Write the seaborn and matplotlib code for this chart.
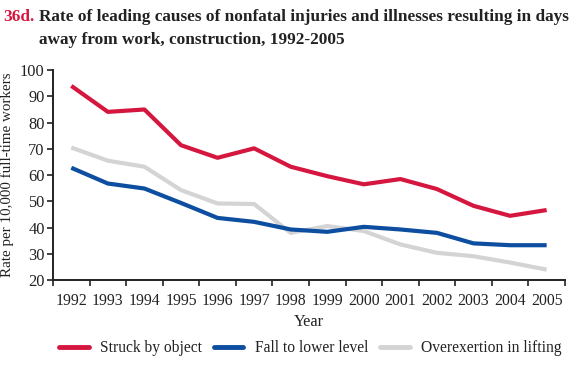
import matplotlib
matplotlib.use("Agg")
import matplotlib.pyplot as plt
import seaborn as sns
import pandas as pd
from matplotlib.ticker import FixedLocator

years = list(range(1992, 2006))
struck = [94.0, 84.1, 85.0, 71.4, 66.6, 70.2, 63.2, 59.6, 56.5, 58.5, 54.7, 48.3, 44.5, 46.7]
fall = [62.8, 56.8, 54.9, 49.4, 43.7, 42.2, 39.3, 38.4, 40.3, 39.3, 38.0, 34.0, 33.3, 33.3]
lifting = [70.5, 65.5, 63.2, 54.3, 49.2, 49.0, 38.0, 40.6, 38.7, 33.6, 30.4, 29.1, 26.7, 24.0]
series_names = ["Struck by object", "Fall to lower level", "Overexertion in lifting"]
colors = ["#D5173F", "#0D4EA0", "#D4D4D4"]

df = pd.concat([
    pd.DataFrame({"Year": years, "Rate": v, "Cause": n})
    for v, n in zip([struck, fall, lifting], series_names)
])

sns.set_theme(style="ticks")
plt.rcParams["font.family"] = ["Liberation Serif", "DejaVu Serif"]

fig = plt.figure(figsize=(5.8, 3.73), dpi=100)
ax = fig.add_axes([0.0914, 0.249, 0.974 - 0.0914, 0.812 - 0.249])

sns.lineplot(data=df, x="Year", y="Rate", hue="Cause", hue_order=series_names,
             palette=colors, linewidth=3.0, ax=ax, legend=False)
for i, ln in enumerate(ax.get_lines()):
    ln.set_zorder(5 - i)
    ln.set_solid_capstyle("butt")

ax.set_xlim(1991.5, 2005.5)
ax.set_ylim(20, 100)
ax.set_yticks(range(20, 101, 10))
ax.set_xticks(years)
ax.set_xticklabels([str(y) for y in years])
ax.xaxis.set_minor_locator(FixedLocator([y + 0.5 for y in range(1991, 2006)]))
ax.tick_params(axis="x", which="major", length=0, pad=9, labelsize=11.3, colors="#222222")
ax.tick_params(axis="x", which="minor", length=4, width=1.2, direction="out", color="#222222")
ax.tick_params(axis="y", which="major", length=4, width=1.2, direction="out", labelsize=11.8, pad=2, colors="#222222")
for s in ["top", "right"]:
    ax.spines[s].set_visible(False)
for s in ["left", "bottom"]:
    ax.spines[s].set_linewidth(1.4)
    ax.spines[s].set_color("#222222")

ax.set_xlabel("Year", fontsize=11.8, labelpad=4, color="#222222")
ax.set_ylabel("Rate per 10,000 full-time workers", fontsize=10.8, color="#222222")
ax.yaxis.set_label_coords(-(53 - 14) / (580 * (0.974 - 0.0914)), 0.5)

# title
fig.text(3 / 580, 1 - 17 / 373, "36d.", color="#D5173F", fontsize=12.4, fontweight="bold", va="center", ha="left")
fig.text(39 / 580, 1 - 17 / 373, "Rate of leading causes of nonfatal injuries and illnesses resulting in days",
         color="#222222", fontsize=12.4, fontweight="bold", va="center", ha="left")
fig.text(39 / 580, 1 - 40 / 373, "away from work, construction, 1992-2005",
         color="#222222", fontsize=12.4, fontweight="bold", va="center", ha="left")

handles = [plt.Line2D([], [], color=c, linewidth=3.5) for c in colors]
fig.legend(handles, series_names, loc="center left", bbox_to_anchor=(45 / 580, 1 - 348 / 373), ncol=3,
           frameon=False, fontsize=11.2, handlelength=1.9, columnspacing=0.75, handletextpad=0.75,
           labelcolor="#222222")

fig.savefig("out.png", dpi=100)
